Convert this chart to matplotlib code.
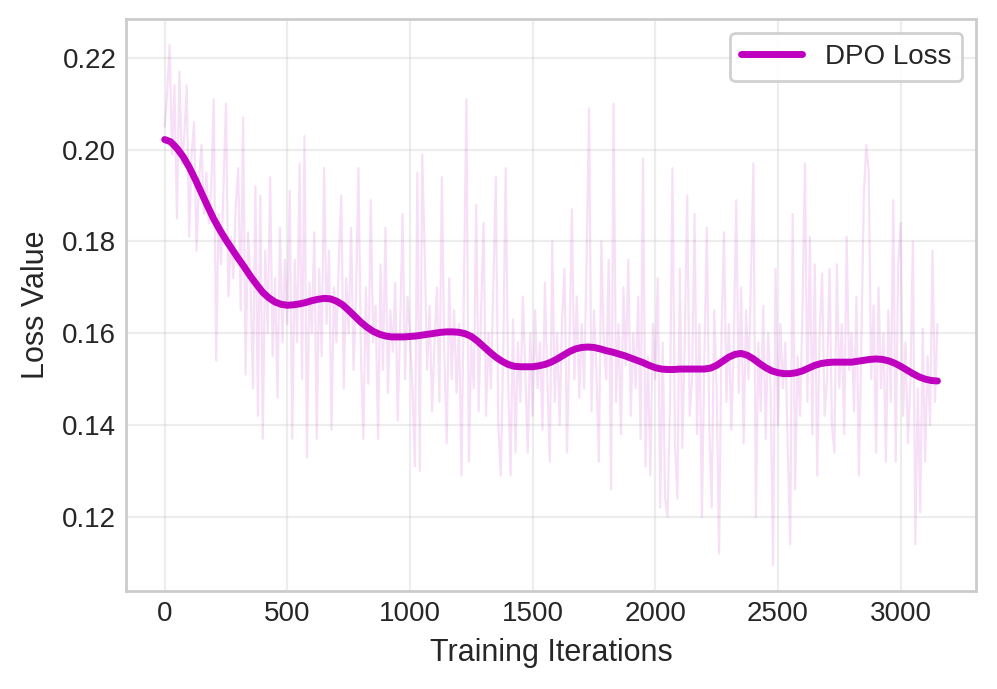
import matplotlib
matplotlib.use("Agg")
import matplotlib.pyplot as plt

# iterations for raw and smoothed curves
iters_raw = list(range(0, 3151, 10))
iters_smooth = list(range(0, 3151, 25))

loss_raw = [
    0.205, 0.212, 0.2228, 0.199, 0.214, 0.185, 0.217, 0.197, 0.203, 0.214,
    0.181, 0.199, 0.206, 0.178, 0.193, 0.201, 0.186, 0.195, 0.184, 0.192,
    0.211, 0.154, 0.186, 0.175, 0.192, 0.210, 0.168, 0.181, 0.172, 0.188,
    0.196, 0.165, 0.207, 0.151, 0.182, 0.171, 0.148, 0.192, 0.142, 0.190,
    0.137, 0.178, 0.160, 0.194, 0.155, 0.172, 0.146, 0.183, 0.158, 0.176,
    0.162, 0.191, 0.137, 0.176, 0.158, 0.197, 0.150, 0.203, 0.133, 0.171,
    0.160, 0.182, 0.137, 0.174, 0.155, 0.196, 0.162, 0.178, 0.139, 0.170,
    0.158, 0.176, 0.190, 0.148, 0.172, 0.160, 0.183, 0.152, 0.168, 0.196,
    0.155, 0.137, 0.170, 0.149, 0.189, 0.158, 0.166, 0.137, 0.175, 0.152,
    0.183, 0.147, 0.165, 0.156, 0.171, 0.141, 0.162, 0.186, 0.150, 0.168,
    0.160, 0.148, 0.131, 0.195, 0.130, 0.199, 0.177, 0.152, 0.166, 0.143,
    0.158, 0.170, 0.145, 0.194, 0.155, 0.136, 0.172, 0.150, 0.165, 0.147,
    0.162, 0.129, 0.170, 0.211, 0.132, 0.158, 0.148, 0.188, 0.143, 0.165,
    0.184, 0.142, 0.160, 0.148, 0.171, 0.194, 0.140, 0.129, 0.155, 0.196,
    0.150, 0.129, 0.163, 0.134, 0.158, 0.145, 0.168, 0.152, 0.134, 0.160,
    0.142, 0.165, 0.148, 0.158, 0.139, 0.171, 0.150, 0.132, 0.180, 0.145,
    0.160, 0.140, 0.163, 0.174, 0.134, 0.158, 0.187, 0.150, 0.168, 0.146,
    0.162, 0.148, 0.176, 0.209, 0.143, 0.165, 0.152, 0.132, 0.180, 0.158,
    0.150, 0.176, 0.126, 0.210, 0.145, 0.162, 0.138, 0.170, 0.153, 0.176,
    0.142, 0.160, 0.148, 0.168, 0.137, 0.198, 0.131, 0.155, 0.129, 0.162,
    0.150, 0.172, 0.122, 0.158, 0.124, 0.120, 0.145, 0.196, 0.136, 0.124,
    0.174, 0.135, 0.158, 0.190, 0.142, 0.150, 0.186, 0.138, 0.162, 0.120,
    0.155, 0.183, 0.140, 0.122, 0.165, 0.148, 0.112, 0.160, 0.182, 0.145,
    0.162, 0.139, 0.158, 0.189, 0.147, 0.170, 0.136, 0.165, 0.150, 0.172,
    0.197, 0.120, 0.158, 0.143, 0.166, 0.137, 0.160, 0.148, 0.1095, 0.174,
    0.140, 0.162, 0.148, 0.158, 0.135, 0.114, 0.186, 0.126, 0.155, 0.142,
    0.165, 0.197, 0.145, 0.181, 0.138, 0.175, 0.129, 0.160, 0.173, 0.142,
    0.150, 0.174, 0.140, 0.134, 0.175, 0.148, 0.162, 0.138, 0.181, 0.152,
    0.160, 0.143, 0.168, 0.129, 0.158, 0.190, 0.201, 0.195, 0.150, 0.166,
    0.134, 0.170, 0.148, 0.160, 0.132, 0.165, 0.145, 0.189, 0.132, 0.175,
    0.184, 0.142, 0.158, 0.136, 0.150, 0.180, 0.114, 0.148, 0.121, 0.161,
    0.132, 0.155, 0.140, 0.178, 0.145, 0.162,
]

loss_smooth = [
    0.2022, 0.2017, 0.2003, 0.1985, 0.1962, 0.1935, 0.1906, 0.1877, 0.1849, 0.1825,
    0.1803, 0.1783, 0.1763, 0.1744, 0.1724, 0.1706, 0.1689, 0.1677, 0.1668, 0.1663,
    0.1661, 0.1662, 0.1664, 0.1667, 0.1671, 0.1674, 0.1676, 0.1675, 0.1670, 0.1662,
    0.1650, 0.1637, 0.1624, 0.1613, 0.1604, 0.1598, 0.1594, 0.1592, 0.1592, 0.1592,
    0.1593, 0.1594, 0.1596, 0.1598, 0.1600, 0.1602, 0.1603, 0.1603, 0.1602, 0.1599,
    0.1593, 0.1583, 0.1571, 0.1559, 0.1548, 0.1539, 0.1532, 0.1528, 0.1527, 0.1527,
    0.1527, 0.1529, 0.1532, 0.1537, 0.1544, 0.1552, 0.1560, 0.1566, 0.1569, 0.1570,
    0.1569, 0.1566, 0.1562, 0.1559, 0.1555, 0.1551, 0.1546, 0.1541, 0.1536, 0.1530,
    0.1525, 0.1522, 0.1521, 0.1521, 0.1522, 0.1522, 0.1522, 0.1522, 0.1522, 0.1524,
    0.1530, 0.1539, 0.1548, 0.1554, 0.1556, 0.1552, 0.1544, 0.1534, 0.1525, 0.1518,
    0.1514, 0.1512, 0.1512, 0.1514, 0.1518, 0.1524, 0.1530, 0.1534, 0.1536, 0.1537,
    0.1537, 0.1537, 0.1537, 0.1539, 0.1541, 0.1543, 0.1544, 0.1543, 0.1540, 0.1535,
    0.1528, 0.1520, 0.1512, 0.1505, 0.1500, 0.1497, 0.1496,
]

plt.style.use("seaborn-v0_8-whitegrid")
plt.rcParams["font.family"] = ["Liberation Sans", "DejaVu Sans"]

fig, ax = plt.subplots(figsize=(997 / 200, 689 / 200), dpi=200)
fig.subplots_adjust(left=0.1264, right=0.979, top=0.9724, bottom=0.1422)

ax.plot(iters_raw, loss_raw, color="m", alpha=0.12, linewidth=0.8)
ax.plot(iters_smooth, loss_smooth, color="m", linewidth=2.5, label="DPO Loss")

ax.set_xlabel("Training Iterations", fontsize=11)
ax.set_ylabel("Loss Value", fontsize=11)
ax.tick_params(labelsize=10)
ax.grid(True, alpha=0.35)
for s in ax.spines.values():
    s.set_color("0.8")
    s.set_linewidth(1.0)

ax.legend(loc="upper right", fontsize=10, frameon=True, fancybox=True,
          edgecolor="0.8", framealpha=0.9, handlelength=2.2)

fig.savefig("out.png", dpi=200)
